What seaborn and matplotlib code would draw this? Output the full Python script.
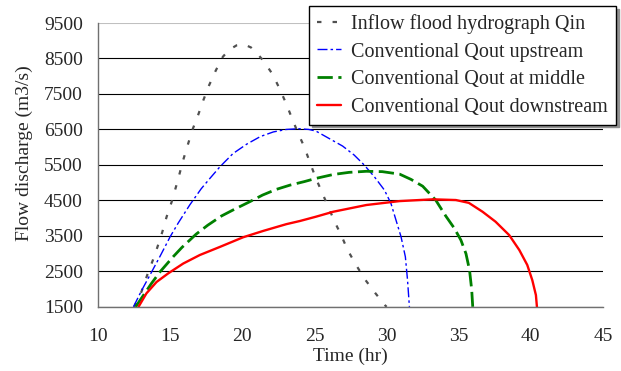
import matplotlib
matplotlib.use("Agg")
import matplotlib.pyplot as plt
import seaborn as sns
import pandas as pd

sns.set_style("white")
plt.rcParams["font.family"] = ["Liberation Serif", "DejaVu Serif"]

# Inflow flood hydrograph
qin_t = [12.5, 13.0, 13.4, 13.8, 14.1, 14.45, 14.75, 15.1, 15.5, 15.9, 16.25, 16.55,
         16.95, 17.3, 17.7, 18.15, 18.65, 19.1, 19.6, 20.1, 20.6, 21.05, 21.45, 22.1,
         22.6, 23.05, 23.45, 23.85, 24.3, 24.7, 25.1, 25.55, 26.0, 26.4, 26.85, 27.3,
         27.85, 28.45, 29.2, 29.9, 30.0]
qin_q = [1500, 1920, 2390, 2820, 3170, 3610, 4040, 4460, 5030, 5640, 6110, 6500,
         6925, 7330, 7750, 8155, 8550, 8750, 8870, 8900, 8810, 8630, 8437, 8053,
         7630, 7216, 6801, 6407, 6000, 5550, 5120, 4697, 4274, 3896, 3521, 3098,
         2704, 2300, 1894, 1540, 1500]

# Routed outflow, upstream section
up_t = [12.45, 13.0, 13.6, 14.3, 15.0, 15.55, 16.35, 17.15, 17.75, 18.45, 19.35, 20.3,
        21.25, 22.15, 23.05, 23.9, 24.6, 25.1, 26.0, 26.95, 27.75, 28.45, 29.15, 29.85,
        30.3, 30.65, 31.0, 31.3, 31.45, 31.58]
up_q = [1500, 1950, 2400, 2930, 3480, 3860, 4370, 4830, 5120, 5450, 5820, 6085,
        6300, 6430, 6500, 6520, 6500, 6454, 6248, 6031, 5778, 5496, 5166, 4790,
        4415, 3944, 3474, 2910, 2252, 1500]

# Routed outflow, middle section
mid_t = [12.6, 13.1, 13.7, 14.3, 15.2, 15.8, 16.8, 17.6, 18.55, 19.45, 20.5, 21.4,
         22.35, 23.3, 24.3, 25.1, 26.3, 27.4, 28.6, 29.7, 30.9, 31.7, 32.5, 33.4,
         34.1, 34.7, 35.15, 35.5, 35.75, 35.9, 35.97]
mid_q = [1500, 1800, 2160, 2490, 2910, 3170, 3550, 3800, 4060, 4250, 4460, 4650,
         4810, 4930, 5030, 5120, 5230, 5290, 5320, 5310, 5240, 5090, 4900, 4510,
         4060, 3710, 3380, 3000, 2530, 1970, 1500]

# Routed outflow, downstream section
down_t = [12.8, 13.35, 14.05, 14.85, 15.9, 17.05, 18.45, 20.05, 21.45, 23.05, 24.0,
          25.1, 26.3, 28.6, 30.9, 33.2, 34.8, 35.7, 36.65, 37.55, 38.5, 39.2, 39.75,
          40.1, 40.35, 40.42]
down_q = [1500, 1880, 2200, 2440, 2720, 2960, 3190, 3460, 3640, 3830, 3920,
          4040, 4180, 4370, 4480, 4530, 4510, 4430, 4180, 3900, 3520, 3100, 2680,
          2250, 1830, 1500]

labels = ["Inflow flood hydrograph Qin", "Conventional Qout upstream",
          "Conventional Qout at middle", "Conventional Qout downstream"]

x_ticks = [10, 15, 20, 25, 30, 35, 40, 45]
y_ticks = [1500, 2500, 3500, 4500, 5500, 6500, 7500, 8500, 9500]

fig = plt.figure(figsize=(6.21, 3.71), dpi=100)
ax = fig.add_axes([0.158, 0.173, 0.813, 0.765])

series = [
    (qin_t, qin_q, labels[0], "#505050", 1.6, (2, 5)),
    (up_t, up_q, labels[1], "#0000ff", 1.0, (7.2, 2.2, 1.8, 2.2)),
    (mid_t, mid_q, labels[2], "#008000", 2.0, (5.5, 2)),
    (down_t, down_q, labels[3], "#ff0000", 1.7, None),
]

for t, q, lab, col, lw, dash in series:
    df = pd.DataFrame({"Time (hr)": t, "Flow discharge (m3/s)": q})
    sns.lineplot(data=df, x="Time (hr)", y="Flow discharge (m3/s)", ax=ax,
                 sort=False, estimator=None, color=col, linewidth=lw, label=lab)
    line = ax.lines[-1]
    if dash is not None:
        line.set_dashes(dash)
        line.set_dash_capstyle("butt")

ax.set_xlim(10, 45)
ax.set_ylim(1500, 9500)
ax.set_xticks(x_ticks)
ax.set_yticks(y_ticks)
ax.yaxis.grid(True, color="black", linewidth=0.8)
ax.xaxis.grid(False)
ax.set_axisbelow(True)
for gl in ax.get_ygridlines()[-1:]:
    gl.set_color("#c0c0c0")
    gl.set_linewidth(1.5)

for side in ["top", "right"]:
    ax.spines[side].set_visible(False)
for side in ["left", "bottom"]:
    ax.spines[side].set_color("#707070")
    ax.spines[side].set_linewidth(1.0)

ax.tick_params(axis="y", direction="in", length=5, width=1, color="#404040",
               pad=11, labelsize=14, right=False)
ax.tick_params(axis="x", direction="in", length=5, width=1, color="#404040",
               pad=15, labelsize=14, top=False)

ax.set_xlabel("Time (hr)", fontsize=14, labelpad=2)
ax.set_ylabel("Flow discharge (m3/s)", fontsize=14)
ax.yaxis.set_label_coords(-0.128, 0.54)

leg = ax.legend(loc="upper right", bbox_to_anchor=(616 / 621, 1 - 6 / 371),
                bbox_transform=fig.transFigure, borderaxespad=0, fontsize=14.5,
                frameon=True, fancybox=False, edgecolor="black", framealpha=1,
                borderpad=0.4, handlelength=1.2, handletextpad=0.5,
                labelspacing=0.42, shadow={"color": "#909090", "alpha": 1})
leg.get_frame().set_linewidth(1.0)

fig.savefig("out.png", dpi=100)
